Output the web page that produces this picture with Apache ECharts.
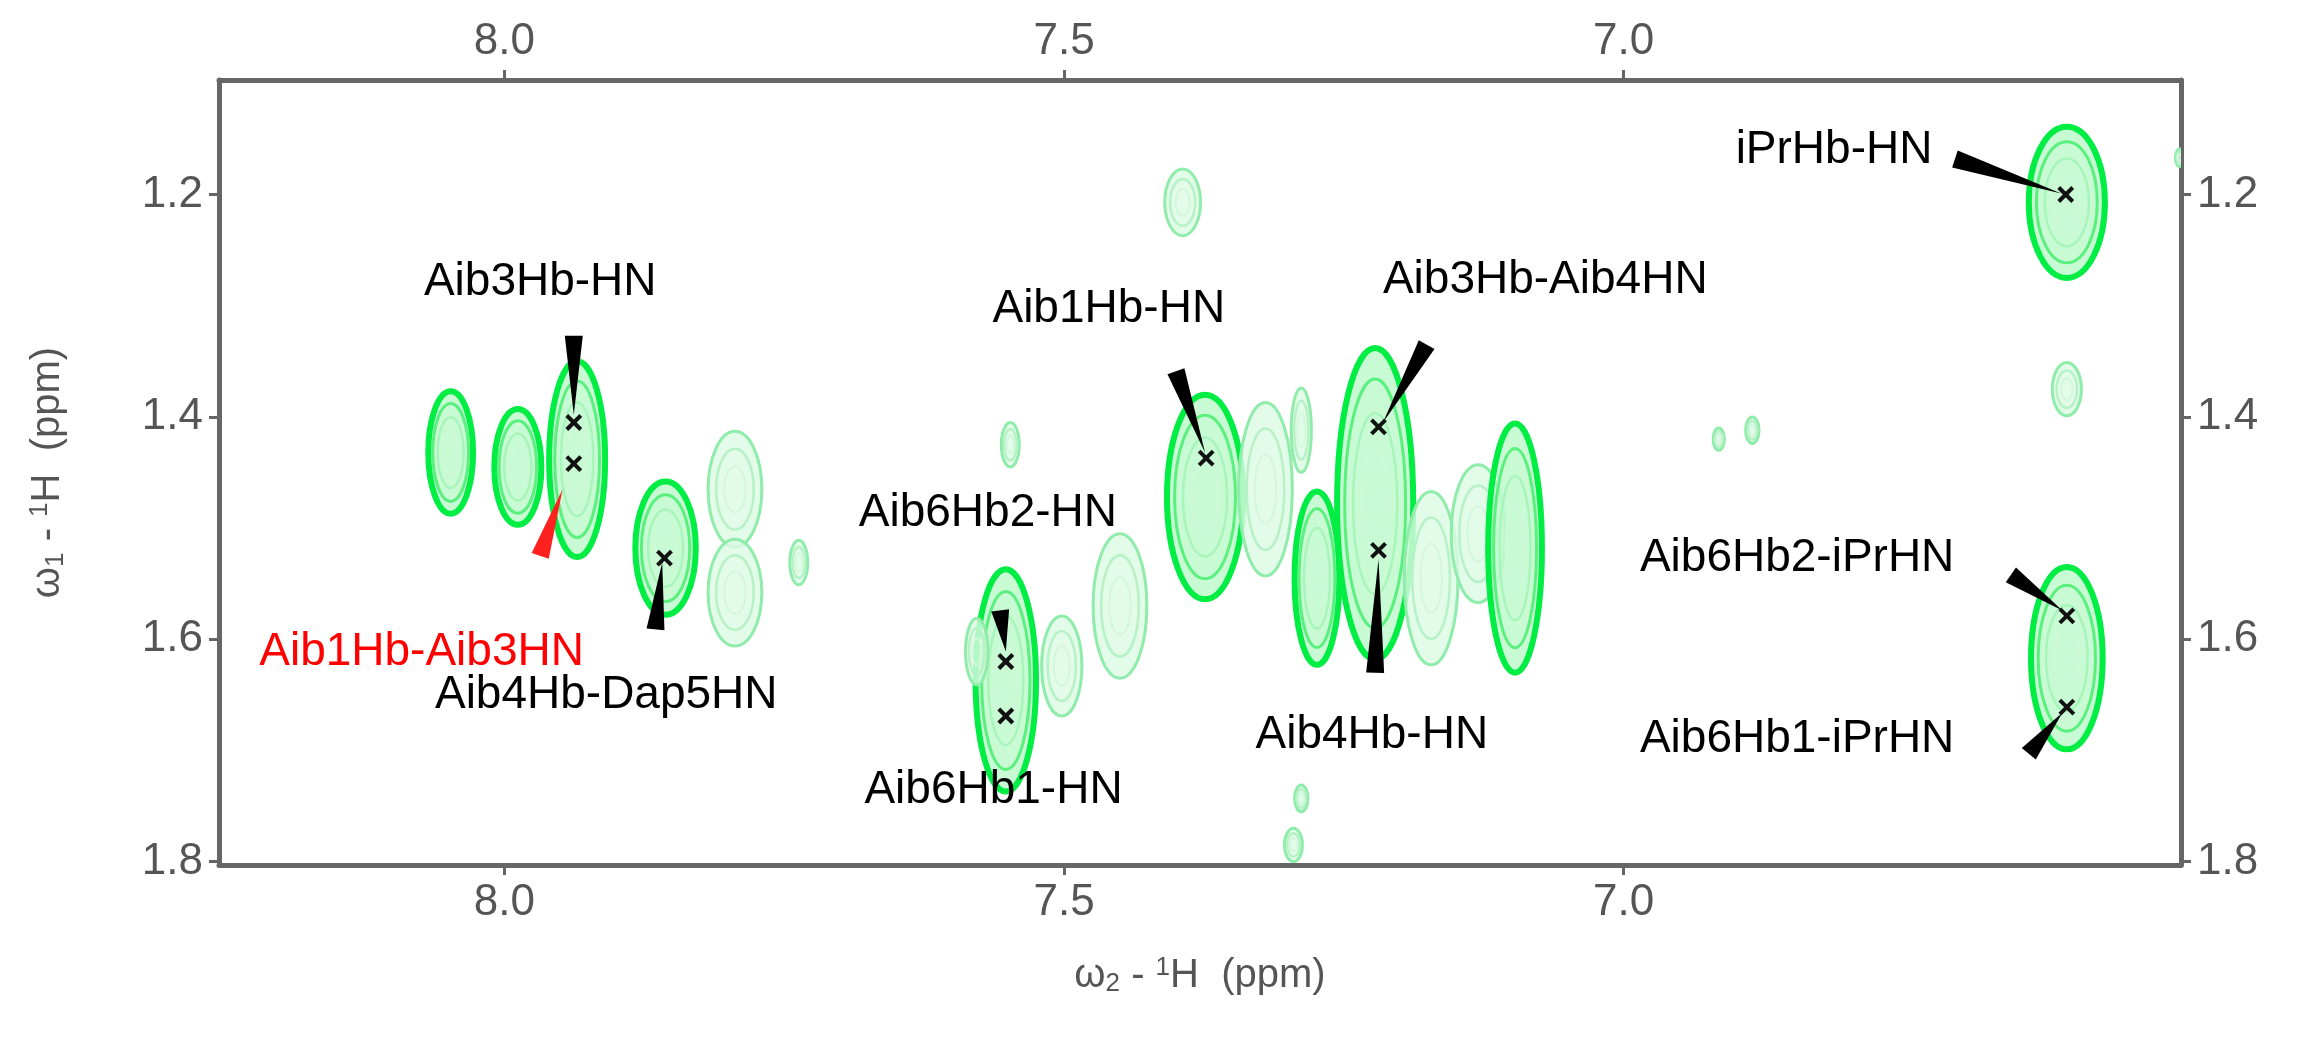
<!DOCTYPE html>
<html><head><meta charset="utf-8">
<script src="https://cdn.jsdelivr.net/npm/echarts@6/dist/echarts.min.js"></script>
<style>html,body{margin:0;padding:0;background:#fff}#c{width:2319px;height:1059px}</style>
</head><body><div id="c"></div>
<script>
const xTicks = [8.0, 7.5, 7.0];
const yTicks = [1.2, 1.4, 1.6, 1.8];
// contour blobs: [x ppm, y ppm, rx ppm, ry ppm, bright(1)/light(0)]
const blobs = [
 [8.048,1.432,0.02,0.055,1],[7.988,1.445,0.021,0.052,1],[7.935,1.438,0.025,0.088,1],
 [7.856,1.518,0.027,0.06,1],[7.794,1.465,0.024,0.052,0],[7.794,1.558,0.024,0.048,0],
 [7.737,1.531,0.008,0.02,0],[7.552,1.637,0.027,0.1,1],[7.502,1.624,0.018,0.045,0],
 [7.45,1.57,0.024,0.065,0],[7.578,1.611,0.01,0.03,0],[7.548,1.425,0.008,0.02,0],
 [7.394,1.207,0.016,0.03,0],[7.374,1.472,0.034,0.092,1],[7.32,1.465,0.024,0.078,0],
 [7.288,1.412,0.009,0.038,0],[7.274,1.545,0.02,0.078,1],[7.222,1.478,0.034,0.14,1],
 [7.172,1.545,0.024,0.078,0],[7.13,1.505,0.024,0.062,0],[7.097,1.518,0.024,0.112,1],
 [7.288,1.743,0.006,0.012,0],[7.295,1.785,0.008,0.015,0],[6.885,1.412,0.006,0.012,0],
 [6.915,1.42,0.005,0.01,0],[6.604,1.207,0.034,0.068,1],[6.604,1.375,0.013,0.024,0],
 [6.604,1.617,0.032,0.082,1],[6.503,1.167,0.004,0.008,0]
];
// peaks (crosses): [x ppm, y ppm]
const peaks = [[6.605,1.2],[7.938,1.405],[7.938,1.442],[7.857,1.527],[7.552,1.62],[7.552,1.669],
 [7.373,1.437],[7.219,1.409],[7.219,1.52],[6.604,1.579],[6.604,1.661]];
// labels: [text, x ppm, y ppm, colour]
const labels = [
 ["iPrHb-HN",6.812,1.16,"#000"],["Aib3Hb-HN",7.968,1.279,"#000"],["Aib1Hb-HN",7.46,1.303,"#000"],
 ["Aib3Hb-Aib4HN",7.07,1.277,"#000"],["Aib6Hb2-HN",7.568,1.487,"#000"],["Aib1Hb-Aib3HN",8.074,1.612,"#ff0000"],
 ["Aib4Hb-Dap5HN",7.909,1.65,"#000"],["Aib4Hb-HN",7.225,1.686,"#000"],["Aib6Hb1-HN",7.563,1.736,"#000"],
 ["Aib6Hb2-iPrHN",6.845,1.527,"#000"],["Aib6Hb1-iPrHN",6.845,1.69,"#000"]
];
// pointers: [baseX, baseY, tipX, tipY, colour]
const pointers = [
 [6.704,1.168,6.609,1.199,"#000"],[7.938,1.327,7.938,1.398,"#000"],[7.400,1.359,7.374,1.432,"#000"],
 [7.176,1.335,7.215,1.405,"#000"],[7.557,1.574,7.552,1.611,"#000"],[7.968,1.525,7.948,1.465,"#ff2020"],
 [7.865,1.591,7.859,1.531,"#000"],[7.222,1.630,7.219,1.528,"#000"],[6.654,1.542,6.608,1.574,"#000"],
 [6.638,1.703,6.608,1.666,"#000"]
];

const chart = echarts.init(document.getElementById('c'));
const axisCol = '#666';
const fnt = 'Liberation Sans';
const rich = {w:{fontSize:40,color:'#555',fontFamily:fnt},
  sub:{fontSize:26,color:'#555',fontFamily:fnt,verticalAlign:'top',padding:[16,0,0,0]},
  sup:{fontSize:26,color:'#555',fontFamily:fnt,verticalAlign:'bottom',padding:[0,0,16,0]}};
function xAx(pos){return {type:'value',position:pos,inverse:true,min:6.502,max:8.255,
  axisLine:{show:true,onZero:false,lineStyle:{color:axisCol,width:5}},
  axisTick:{show:true,customValues:xTicks,length:10,lineStyle:{color:axisCol,width:3}},
  splitLine:{show:false},
  axisLabel:{show:true,customValues:xTicks,formatter:v=>v.toFixed(1),fontSize:44,color:'#555',fontFamily:fnt,margin:16},
  name: pos==='bottom'?'{w|ω}{sub|2}{w| - }{sup|1}{w|H  (ppm)}':'', nameLocation:'middle',nameGap:90,
  nameTextStyle:{rich}};}
function yAx(pos){return {type:'value',position:pos,inverse:true,min:1.097,max:1.803,
  axisLine:{show:true,onZero:false,lineStyle:{color:axisCol,width:5}},
  axisTick:{show:true,customValues:yTicks,length:10,lineStyle:{color:axisCol,width:3}},
  splitLine:{show:false},
  axisLabel:{show:true,customValues:yTicks,formatter:v=>v.toFixed(1),fontSize:44,color:'#555',fontFamily:fnt,margin:16},
  name: pos==='left'?'{w|ω}{sub|1}{w| - }{sup|1}{w|H  (ppm)}':'', nameLocation:'middle',nameGap:150,nameRotate:90,
  nameTextStyle:{rich}};}

chart.setOption({
 animation:false,
 backgroundColor:'#fff',
 grid:{left:219,right:138,top:80,bottom:194},
 xAxis:[xAx('bottom'),xAx('top')],
 yAxis:[yAx('left'),yAx('right')],
 series:[
  {type:'custom',xAxisIndex:0,yAxisIndex:0,data:blobs,clip:true,
   renderItem:(p,api)=>{
    const c=api.coord([api.value(0),api.value(1)]);
    const s=api.size([api.value(2),api.value(3)]);
    const br=api.value(4);
    const ch=[];
    const rings=br?[[1,'#00ee44',6,'rgba(190,250,205,0.85)'],[0.8,'#5af07e',3,null],[0.58,'#a8f5bb',2.5,null],[0.35,'#cdf9d7',2,null]]
                   :[[1,'#8fecaa',3,'rgba(220,250,228,0.8)'],[0.7,'#b6f2c6',2.5,null],[0.4,'#d3f7dd',2,null]];
    rings.forEach(r=>{ch.push({type:'ellipse',shape:{cx:c[0],cy:c[1],rx:s[0]*r[0],ry:s[1]*r[0]},
      style:{fill:r[3]||'none',stroke:r[1],lineWidth:r[2]}});});
    return {type:'group',children:ch};
   }},
  {type:'custom',xAxisIndex:0,yAxisIndex:0,data:pointers,clip:false,
   renderItem:(p,api)=>{
    const b=api.coord([api.value(0),api.value(1)]);const t=api.coord([api.value(2),api.value(3)]);
    const dx=t[0]-b[0],dy=t[1]-b[1];const L=Math.hypot(dx,dy);const nx=-dy/L*9,ny=dx/L*9;
    return {type:'polygon',shape:{points:[[b[0]+nx,b[1]+ny],[b[0]-nx,b[1]-ny],[t[0],t[1]]]},
      style:{fill:pointers[p.dataIndex][4]}};
   }},
  {type:'custom',xAxisIndex:0,yAxisIndex:0,data:peaks,
   renderItem:(p,api)=>{
    const c=api.coord([api.value(0),api.value(1)]);const d=7;
    return {type:'group',children:[
     {type:'line',shape:{x1:c[0]-d,y1:c[1]-d,x2:c[0]+d,y2:c[1]+d},style:{stroke:'#111',lineWidth:4}},
     {type:'line',shape:{x1:c[0]-d,y1:c[1]+d,x2:c[0]+d,y2:c[1]-d},style:{stroke:'#111',lineWidth:4}}]};
   }},
  {type:'custom',xAxisIndex:0,yAxisIndex:0,data:labels.map(l=>[l[1],l[2]]),clip:false,
   renderItem:(p,api)=>{
    const c=api.coord([api.value(0),api.value(1)]);const l=labels[p.dataIndex];
    return {type:'text',x:c[0],y:c[1],style:{text:l[0],fill:l[3],font:'46px "Liberation Sans"',align:'center',verticalAlign:'middle'}};
   }}
 ]
});
</script></body></html>
